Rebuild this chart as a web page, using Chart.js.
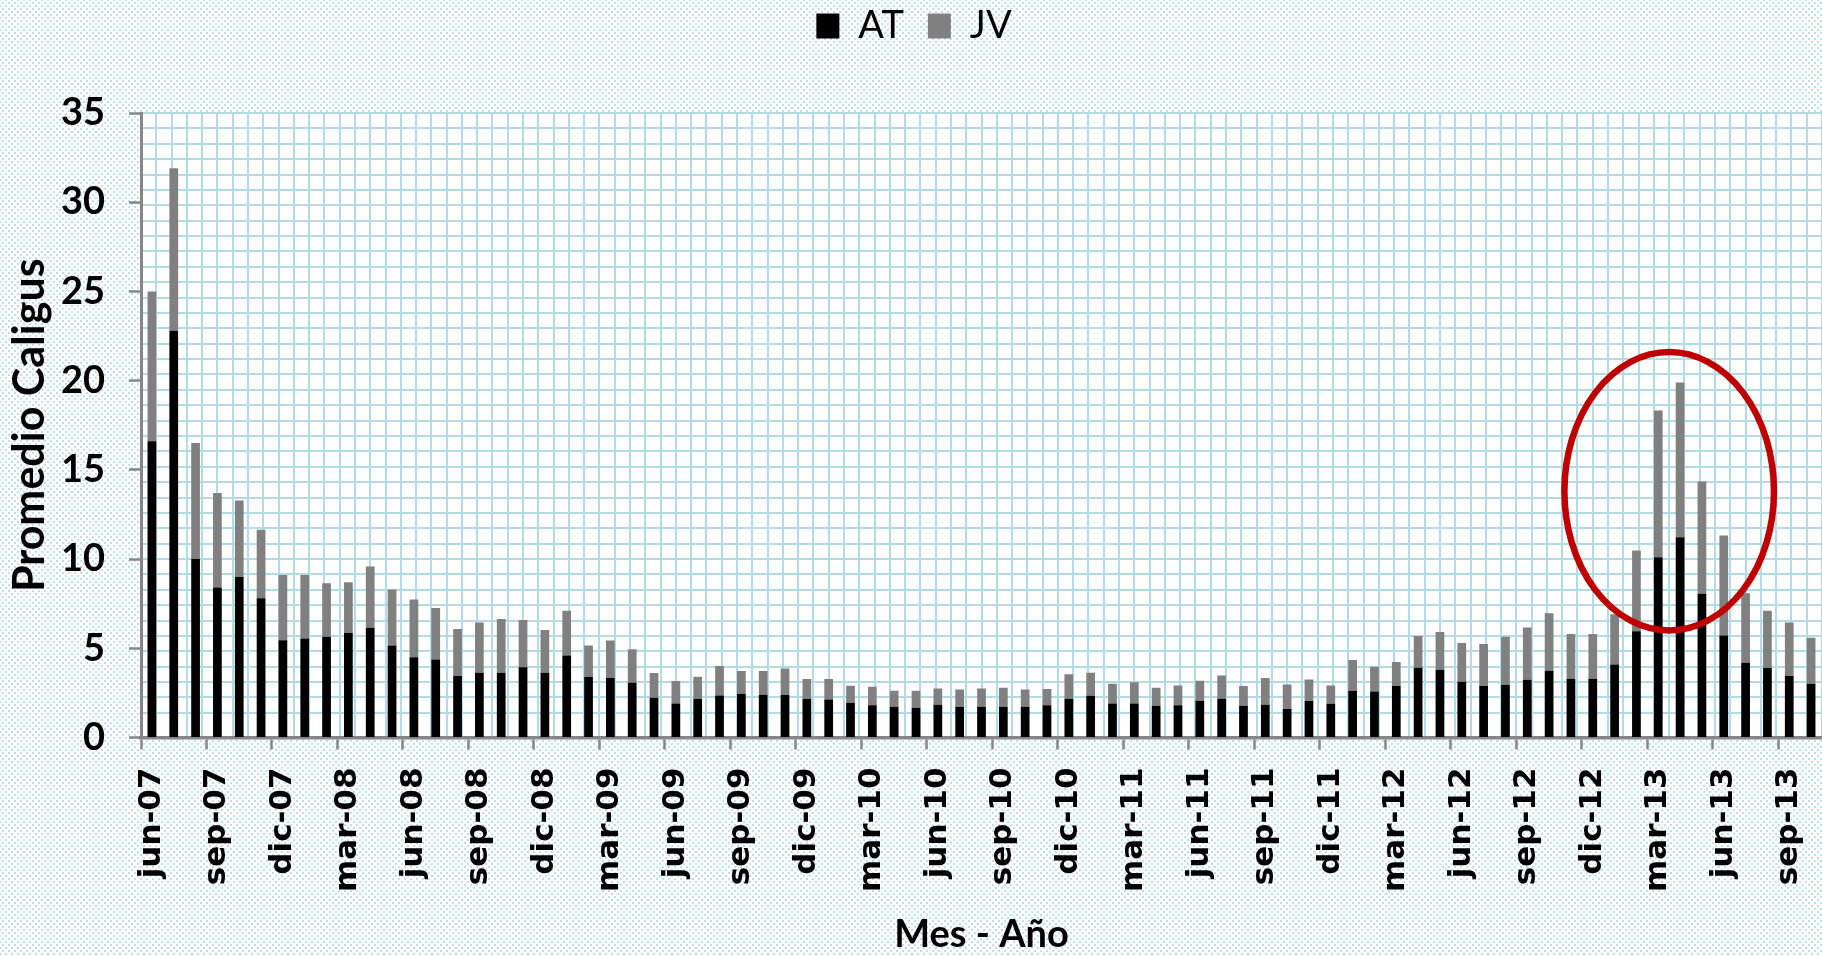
<!DOCTYPE html>
<html lang="es">
<head>
    <meta charset="UTF-8">
    <title>Promedio Caligus</title>
    <script src="https://cdn.jsdelivr.net/npm/chart.js"></script>
    <style>
        html, body { margin: 0; padding: 0; overflow: hidden; }
        body {
            width: 1822px;
            height: 956px;
            background-color: #fff;
            background-image:
                radial-gradient(circle, #bfe0ea 1px, transparent 1.4px),
                radial-gradient(circle, #bfe0ea 1px, transparent 1.4px);
            background-size: 6px 6px;
            background-position: 0 0, 3px 3px;
        }
    </style>
</head>
<body>
<canvas id="chart" width="1822" height="956"></canvas>

<script>
    // Meses (jun-07 .. oct-13)
    const meses = [
        'jun-07', 'jul-07', 'ago-07', 'sep-07', 'oct-07', 'nov-07', 'dic-07',
        'ene-08', 'feb-08', 'mar-08', 'abr-08', 'may-08', 'jun-08', 'jul-08', 'ago-08', 'sep-08', 'oct-08', 'nov-08', 'dic-08',
        'ene-09', 'feb-09', 'mar-09', 'abr-09', 'may-09', 'jun-09', 'jul-09', 'ago-09', 'sep-09', 'oct-09', 'nov-09', 'dic-09',
        'ene-10', 'feb-10', 'mar-10', 'abr-10', 'may-10', 'jun-10', 'jul-10', 'ago-10', 'sep-10', 'oct-10', 'nov-10', 'dic-10',
        'ene-11', 'feb-11', 'mar-11', 'abr-11', 'may-11', 'jun-11', 'jul-11', 'ago-11', 'sep-11', 'oct-11', 'nov-11', 'dic-11',
        'ene-12', 'feb-12', 'mar-12', 'abr-12', 'may-12', 'jun-12', 'jul-12', 'ago-12', 'sep-12', 'oct-12', 'nov-12', 'dic-12',
        'ene-13', 'feb-13', 'mar-13', 'abr-13', 'may-13', 'jun-13', 'jul-13', 'ago-13', 'sep-13', 'oct-13'
    ];

    // Adultos totales
    const at = [
        16.6, 22.8, 10.0, 8.4, 9.0, 7.8, 5.45,
        5.55, 5.65, 5.85, 6.15, 5.15, 4.5, 4.37, 3.44, 3.63, 3.63, 3.93, 3.63,
        4.6, 3.39, 3.33, 3.07, 2.23, 1.91, 2.17, 2.36, 2.45, 2.4, 2.38, 2.17,
        2.13, 1.95, 1.8, 1.72, 1.67, 1.83, 1.72, 1.72, 1.72, 1.72, 1.8, 2.17,
        2.34, 1.9, 1.91, 1.78, 1.8, 2.06, 2.17, 1.78, 1.83, 1.59, 2.04, 1.89,
        2.62, 2.58, 2.88, 3.91, 3.8, 3.13, 2.88, 2.94, 3.24, 3.74, 3.29, 3.29,
        4.09, 5.95, 10.1, 11.22, 8.06, 5.72, 4.19, 3.89, 3.44, 3.01
    ];

    // Juveniles
    const jv = [
        8.4, 9.1, 6.5, 5.3, 4.28, 3.84, 3.66,
        3.56, 2.99, 2.85, 3.43, 3.14, 3.23, 2.89, 2.64, 2.81, 3.01, 2.66, 2.4,
        2.51, 1.77, 2.11, 1.87, 1.38, 1.25, 1.24, 1.64, 1.28, 1.33, 1.48, 1.11,
        1.15, 0.95, 1.05, 0.9, 0.95, 0.92, 0.97, 1.03, 1.07, 0.97, 0.92, 1.37,
        1.29, 1.11, 1.18, 1.01, 1.12, 1.12, 1.31, 1.1, 1.5, 1.38, 1.21, 1.03,
        1.72, 1.39, 1.35, 1.78, 2.11, 2.17, 2.36, 2.71, 2.93, 3.22, 2.51, 2.51,
        2.81, 4.53, 8.23, 8.67, 6.29, 5.6, 3.89, 3.22, 3.0, 2.58
    ];

    const yTicks = [0, 5, 10, 15, 20, 25, 30, 35];

    // Elipse roja en unidades de datos (indice de mes, valor)
    const elipseCentro = [69.5, 13.8];
    const elipseRadio = [4.8, 7.8];

    const narrow = '"Liberation Sans Narrow", "Arial Narrow", Lato, sans-serif';
    const gris = '#868686';
    const cuadricula = '#b3dbe6';

    const fondoPlot = {
        id: 'fondoPlot',
        beforeDraw(chart) {
            const { ctx, chartArea: a } = chart;
            ctx.save();
            ctx.fillStyle = '#fff';
            ctx.fillRect(a.left, a.top, a.width, a.height);
            ctx.restore();
        }
    };

    const espacioLeyenda = {
        id: 'espacioLeyenda',
        beforeInit(chart) {
            if (!chart.legend) return;
            const fit = chart.legend.fit;
            chart.legend.fit = function () {
                fit.call(this);
                this.height += 58;
            };
        }
    };

    const elipse = {
        id: 'elipse',
        afterDatasetsDraw(chart) {
            const { ctx, scales: { x, y } } = chart;
            const cx = x.getPixelForValue(elipseCentro[0]);
            const cy = y.getPixelForValue(elipseCentro[1]);
            const rx = x.getPixelForValue(elipseCentro[0] + elipseRadio[0]) - cx;
            const ry = cy - y.getPixelForValue(elipseCentro[1] + elipseRadio[1]);
            ctx.save();
            ctx.beginPath();
            ctx.ellipse(cx, cy, rx, ry, 0, 0, Math.PI * 2);
            ctx.strokeStyle = '#c00000';
            ctx.lineWidth = 6.5;
            ctx.stroke();
            ctx.restore();
        }
    };

    new Chart(document.getElementById('chart'), {
        type: 'bar',
        data: {
            labels: meses,
            datasets: [
                { label: 'AT', data: at, backgroundColor: '#000000', barPercentage: 0.4, categoryPercentage: 1 },
                { label: 'JV', data: jv, backgroundColor: '#808080', barPercentage: 0.4, categoryPercentage: 1 }
            ]
        },
        options: {
            responsive: false,
            animation: false,
            layout: { autoPadding: false, padding: { left: 6, top: -17, right: 0, bottom: 0 } },
            plugins: {
                tooltip: { enabled: false },
                legend: {
                    position: 'top',
                    labels: {
                        boxWidth: 23,
                        boxHeight: 25,
                        padding: 24,
                        color: '#000',
                        font: { family: narrow, size: 38 }
                    }
                }
            },
            scales: {
                x: {
                    stacked: true,
                    offset: true,
                    afterFit: s => { s.paddingLeft = 0; s.paddingRight = 0; },
                    grid: {
                        drawOnChartArea: false,
                        tickLength: 12,
                        tickWidth: 2.5,
                        tickColor: ctx => ctx.index % 3 === 0 ? gris : 'rgba(0,0,0,0)'
                    },
                    border: { color: gris, width: 3.5 },
                    ticks: {
                        autoSkip: false,
                        minRotation: 90,
                        maxRotation: 90,
                        padding: 18,
                        color: '#000',
                        font: { family: '"DejaVu Sans", Verdana, sans-serif', weight: 'bold', size: 31 },
                        callback: (v, i) => i % 3 === 0 ? meses[i] : ''
                    },
                    title: {
                        display: true,
                        text: 'Mes - Año',
                        color: '#000',
                        font: { family: narrow, weight: 'bold', size: 38, lineHeight: 1 },
                        padding: { top: 6, bottom: 2 }
                    }
                },
                y: {
                    stacked: true,
                    min: 0,
                    max: 35,
                    afterBuildTicks: s => { s.ticks = yTicks.map(v => ({ value: v })); },
                    afterFit: s => { s.width = 135; },
                    grid: { drawOnChartArea: false, tickLength: 12, tickWidth: 2.5, tickColor: gris },
                    border: { color: gris, width: 3 },
                    ticks: {
                        padding: 24,
                        color: '#000',
                        font: { family: narrow, weight: 'bold', size: 38 }
                    },
                    title: {
                        display: true,
                        text: 'Promedio Caligus',
                        color: '#000',
                        font: { family: narrow, weight: 'bold', size: 43, lineHeight: 1 },
                        padding: { top: 3, bottom: 0 }
                    }
                },
                // papel cuadriculado del fondo
                gx: {
                    type: 'linear',
                    position: 'top',
                    min: 0,
                    max: 109,
                    ticks: { display: false, stepSize: 1, maxTicksLimit: 200 },
                    grid: { color: cuadricula, lineWidth: 2, drawTicks: false },
                    border: { display: false },
                    afterFit: s => { s.height = 0; s.paddingLeft = 0; s.paddingRight = 0; }
                },
                gy: {
                    type: 'linear',
                    position: 'right',
                    reverse: true,
                    min: 0,
                    max: 40.6,
                    ticks: { display: false, stepSize: 1, maxTicksLimit: 200 },
                    grid: { color: cuadricula, lineWidth: 2, drawTicks: false },
                    border: { display: false },
                    afterFit: s => { s.width = 0; s.paddingTop = 0; s.paddingBottom = 0; }
                }
            }
        },
        plugins: [fondoPlot, espacioLeyenda, elipse]
    });
</script>
</body>
</html>
